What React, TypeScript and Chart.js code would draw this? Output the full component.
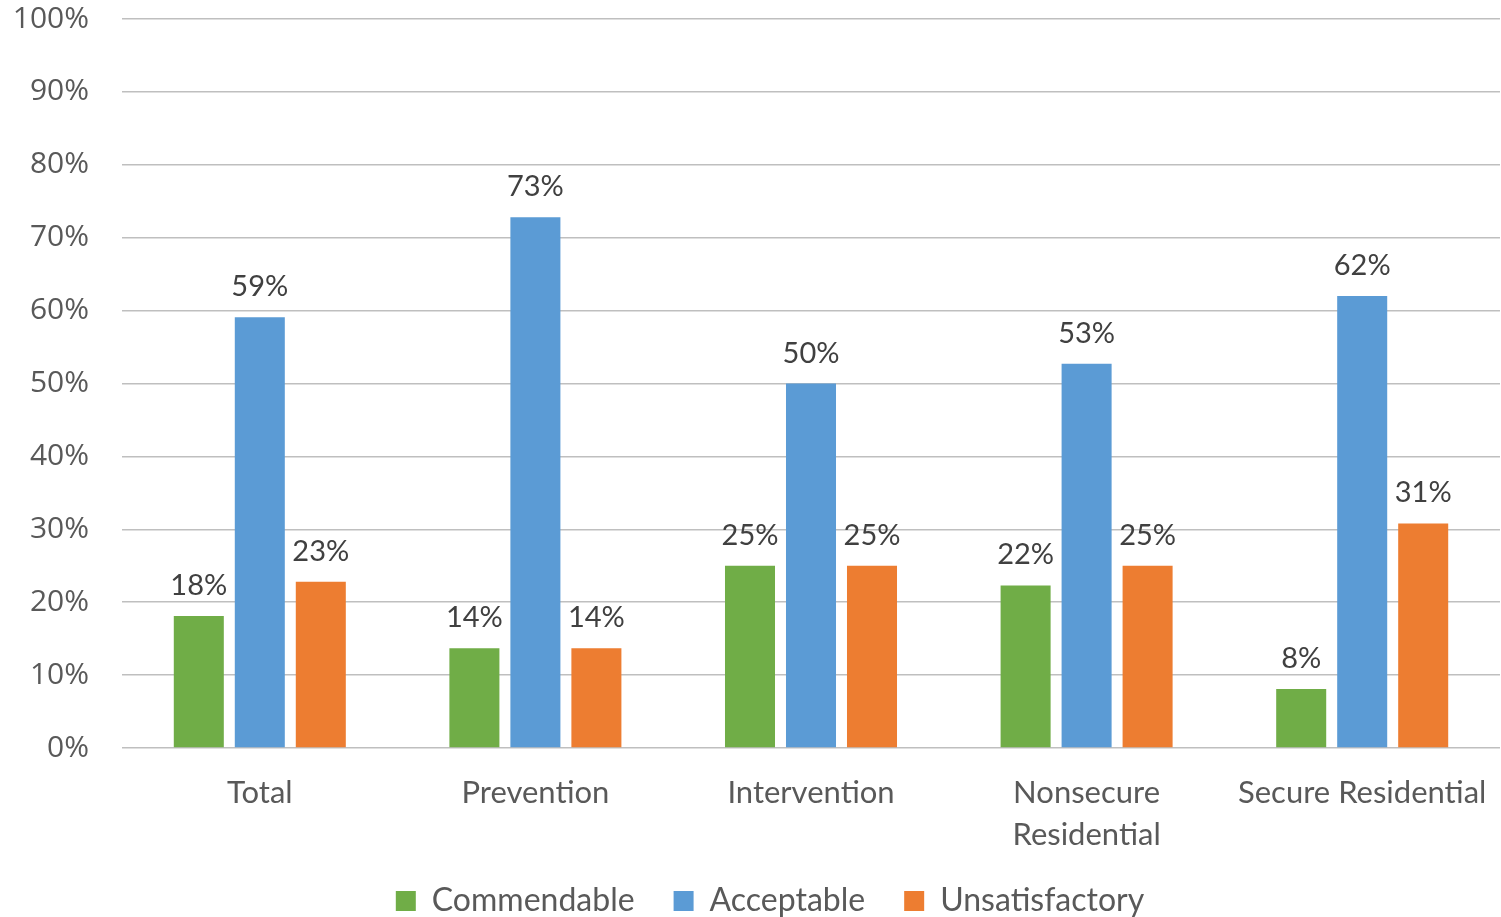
import React, { useEffect, useRef } from "react";
import { Chart, registerables } from "chart.js";

Chart.register(...registerables);

const categories: (string | string[])[] = [
  "Total",
  "Prevention",
  "Intervention",
  ["Nonsecure", "Residential"],
  "Secure Residential",
];
const commendable = [18.1, 13.7, 25, 22.3, 8.1];
const acceptable = [59.1, 72.8, 50, 52.7, 62];
const unsatisfactory = [22.8, 13.7, 25, 25, 30.8];
const seriesNames = ["Commendable", "Acceptable", "Unsatisfactory"];
const seriesColors = ["#70AD47", "#5B9BD5", "#ED7D31"];

const valueLabels = {
  id: "valueLabels",
  afterDatasetsDraw(chart: any) {
    const ctx = chart.ctx;
    ctx.save();
    ctx.font = "29px Lato";
    ctx.fillStyle = "#404040";
    ctx.textAlign = "center";
    ctx.textBaseline = "alphabetic";
    chart.data.datasets.forEach((ds: any, i: number) => {
      const meta = chart.getDatasetMeta(i);
      meta.data.forEach((el: any, j: number) => {
        ctx.fillText(Math.round(ds.data[j]) + "%", el.x, el.y - 21);
      });
    });
    ctx.restore();
  },
};

const noClip = () => undefined;

export default function App() {
  const ref = useRef<HTMLCanvasElement>(null);
  useEffect(() => {
    document.body.style.margin = "0";
    const chart = new Chart(ref.current!, {
      type: "bar",
      data: {
        labels: categories,
        datasets: [commendable, acceptable, unsatisfactory].map((d, i) => ({
          label: seriesNames[i],
          data: d,
          backgroundColor: seriesColors[i],
          categoryPercentage: 0.664,
          barPercentage: 0.82,
        })),
      },
      options: {
        responsive: false,
        animation: false,
        layout: { padding: { top: 19, right: 1, left: 40, bottom: -10 } },
        plugins: {
          tooltip: { enabled: false },
          legend: {
            position: "bottom",
            labels: {
              font: { family: "Lato", size: 32 },
              color: "#595959",
              boxWidth: 20,
              boxHeight: 20,
              padding: 39,
            },
          },
        },
        scales: {
          x: {
            grid: { display: false },
            border: { display: false },
            ticks: {
              color: "#595959",
              font: { family: "Lato", size: 31, lineHeight: 1.35 },
              padding: 16,
              maxRotation: 0,
              autoSkip: false,
            },
            afterFit: (s: any) => {
              s.height = 98;
              s.paddingLeft = 0;
              s.paddingRight = 0;
              s._computeLabelArea = noClip;
            },
          },
          y: {
            min: 0,
            max: 100,
            grid: { color: "#BFBFBF", lineWidth: 1.5, drawTicks: false },
            border: { display: false },
            ticks: {
              stepSize: 10,
              color: "#595959",
              font: { family: "Open Sans", size: 30 },
              padding: 33,
              callback: (v: any) => v + "%",
            },
            afterFit: (s: any) => {
              s.width = 82;
              s.paddingTop = 0;
              s.paddingBottom = 0;
              s._computeLabelArea = noClip;
            },
          },
        },
      },
      plugins: [valueLabels],
    });
    return () => chart.destroy();
  }, []);
  return <canvas ref={ref} width={1501} height={917} />;
}
